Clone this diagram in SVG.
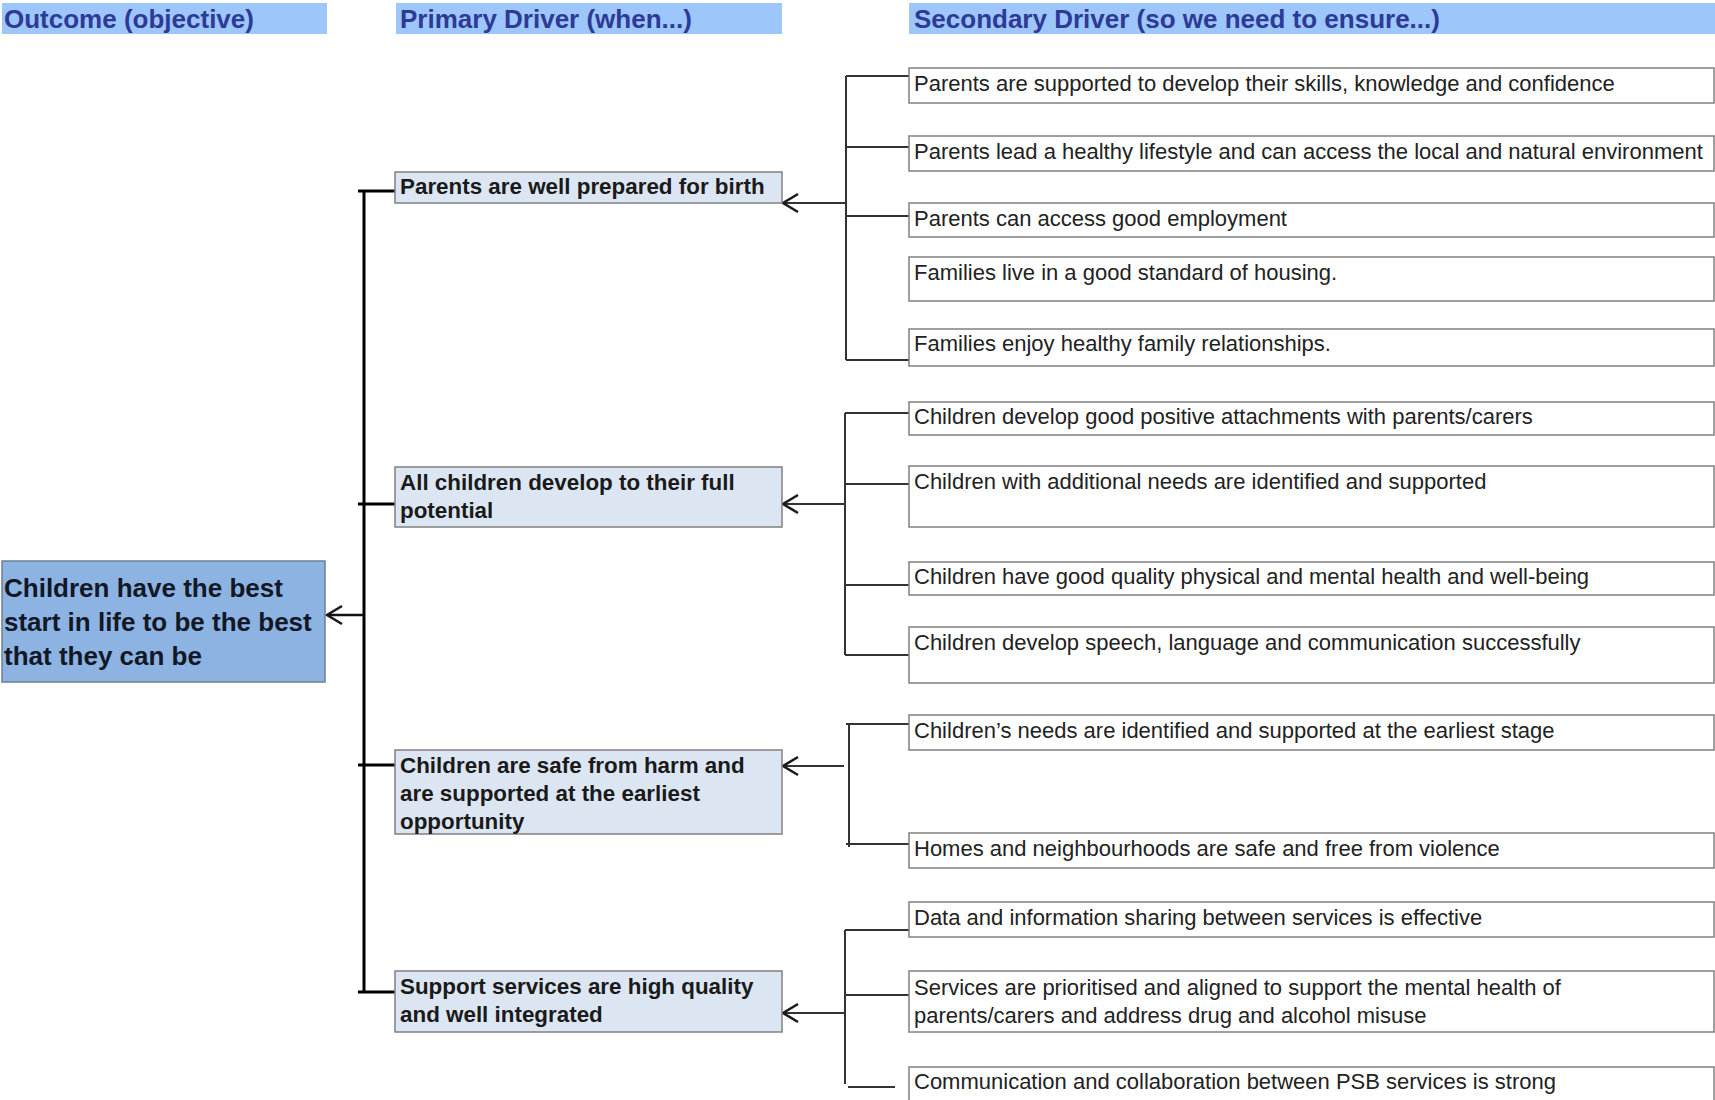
<svg xmlns="http://www.w3.org/2000/svg" width="1715" height="1100" viewBox="0 0 1715 1100">
<style>
.hdr{fill:#9DC6FA}
.htxt{font-family:"Liberation Sans",Arial,sans-serif;font-weight:bold;font-size:26px;fill:#2E3A96}
.out{fill:#8DB3E2;stroke:#6F7F92;stroke-width:1.5}
.otxt{font-family:"Liberation Sans",Arial,sans-serif;font-weight:bold;font-size:26px;fill:#121826}
.pri{fill:#DCE6F2;stroke:#808080;stroke-width:1.5}
.ptxt{font-family:"Liberation Sans",Arial,sans-serif;font-weight:bold;font-size:22.4px;fill:#1a1a1a}
.sec{fill:#ffffff;stroke:#808080;stroke-width:1.5}
.stxt{font-family:"Liberation Sans",Arial,sans-serif;font-size:22px;fill:#222222}
.trunk{stroke:#000;stroke-width:3;fill:none}
.br{stroke:#333;stroke-width:2;fill:none}
.arr{stroke:#333;stroke-width:2;fill:none;marker-end:url(#open)}
.arrb{stroke:#111;stroke-width:2.5;fill:none;marker-end:url(#open)}
</style>
<defs>
<marker id="open" viewBox="-17 -11 19 22" refX="0" refY="0" markerWidth="19" markerHeight="22" markerUnits="userSpaceOnUse" orient="auto">
<path d="M-15,-9 L0,0 L-15,9" fill="none" stroke="#1a1a1a" stroke-width="2.6"/>
</marker>
</defs>
<rect width="1715" height="1100" fill="#ffffff"/>

<g id="headers">
<rect class="hdr" x="2" y="3" width="325" height="31"/>
<text class="htxt" x="4" y="28">Outcome (objective)</text>
<rect class="hdr" x="396" y="3" width="386" height="31"/>
<text class="htxt" x="400" y="28">Primary Driver (when...)</text>
<rect class="hdr" x="909" y="3" width="806" height="31"/>
<text class="htxt" x="914" y="28">Secondary Driver (so we need to ensure...)</text>
</g>

<g id="connectors">
<line class="trunk" x1="364" y1="190" x2="364" y2="993"/>
<line class="trunk" x1="358" y1="191" x2="395" y2="191"/>
<line class="trunk" x1="358" y1="504" x2="395" y2="504"/>
<line class="trunk" x1="358" y1="765" x2="395" y2="765"/>
<line class="trunk" x1="358" y1="992" x2="395" y2="992"/>
<line class="arrb" x1="363" y1="615" x2="327" y2="615"/>
<path class="br" d="M846,76 V360 M846,76 H909 M846,147 H909 M846,216 H909 M846,360 H909"/>
<line class="arr" x1="846" y1="203" x2="783" y2="203"/>
<path class="br" d="M845,413 V655 M845,413 H909 M845,484 H909 M845,585 H909 M845,655 H909"/>
<line class="arr" x1="845" y1="504" x2="783" y2="504"/>
<path class="br" d="M849,724 V847 M846,724 H909 M846,844 H909"/>
<line class="arr" x1="844" y1="766" x2="783" y2="766"/>
<path class="br" d="M845,930 V1084 M845,930 H909 M845,995 H909 M848,1087 H895"/>
<line class="arr" x1="845" y1="1013" x2="783" y2="1013"/>
</g>

<g id="outcome">
<rect class="out" x="2" y="561" width="323" height="121"/>
<text class="otxt" x="4" y="597">Children have the best</text>
<text class="otxt" x="4" y="631">start in life to be the best</text>
<text class="otxt" x="4" y="665">that they can be</text>
</g>

<g id="p1">
<rect class="pri" x="395" y="172" width="387" height="31"/>
<text class="ptxt" x="400" y="194">Parents are well prepared for birth</text>
</g>
<g id="p2">
<rect class="pri" x="395" y="467" width="387" height="60"/>
<text class="ptxt" x="400" y="490">All children develop to their full</text>
<text class="ptxt" x="400" y="518">potential</text>
</g>
<g id="p3">
<rect class="pri" x="395" y="750" width="387" height="84"/>
<text class="ptxt" x="400" y="773">Children are safe from harm and</text>
<text class="ptxt" x="400" y="801">are supported at the earliest</text>
<text class="ptxt" x="400" y="829">opportunity</text>
</g>
<g id="p4">
<rect class="pri" x="395" y="971" width="387" height="61"/>
<text class="ptxt" x="400" y="994">Support services are high quality</text>
<text class="ptxt" x="400" y="1022">and well integrated</text>
</g>

<g id="s1"><rect class="sec" x="909" y="68" width="805" height="35"/><text class="stxt" x="914" y="91">Parents are supported to develop their skills, knowledge and confidence</text></g>
<g id="s2"><rect class="sec" x="909" y="136" width="805" height="35"/><text class="stxt" x="914" y="159">Parents lead a healthy lifestyle and can access the local and natural environment</text></g>
<g id="s3"><rect class="sec" x="909" y="203" width="805" height="34"/><text class="stxt" x="914" y="226">Parents can access good employment</text></g>
<g id="s4"><rect class="sec" x="909" y="257" width="805" height="44"/><text class="stxt" x="914" y="280">Families live in a good standard of housing.</text></g>
<g id="s5"><rect class="sec" x="909" y="329" width="805" height="37"/><text class="stxt" x="914" y="351">Families enjoy healthy family relationships.</text></g>
<g id="s6"><rect class="sec" x="909" y="402" width="805" height="33"/><text class="stxt" x="914" y="424">Children develop good positive attachments with parents/carers</text></g>
<g id="s7"><rect class="sec" x="909" y="466" width="805" height="61"/><text class="stxt" x="914" y="489">Children with additional needs are identified and supported</text></g>
<g id="s8"><rect class="sec" x="909" y="562" width="805" height="33"/><text class="stxt" x="914" y="584">Children have good quality physical and mental health and well-being</text></g>
<g id="s9"><rect class="sec" x="909" y="627" width="805" height="56"/><text class="stxt" x="914" y="650">Children develop speech, language and communication successfully</text></g>
<g id="s10"><rect class="sec" x="909" y="715" width="805" height="35"/><text class="stxt" x="914" y="738">Children’s needs are identified and supported at the earliest stage</text></g>
<g id="s11"><rect class="sec" x="909" y="833" width="805" height="35"/><text class="stxt" x="914" y="856">Homes and neighbourhoods are safe and free from violence</text></g>
<g id="s12"><rect class="sec" x="909" y="902" width="805" height="35"/><text class="stxt" x="914" y="925">Data and information sharing between services is effective</text></g>
<g id="s13"><rect class="sec" x="909" y="971" width="805" height="61"/><text class="stxt" x="914" y="995">Services are prioritised and aligned to support the mental health of</text><text class="stxt" x="914" y="1023">parents/carers and address drug and alcohol misuse</text></g>
<g id="s14"><rect class="sec" x="909" y="1067" width="805" height="34"/><text class="stxt" x="914" y="1089">Communication and collaboration between PSB services is strong</text></g>
</svg>
